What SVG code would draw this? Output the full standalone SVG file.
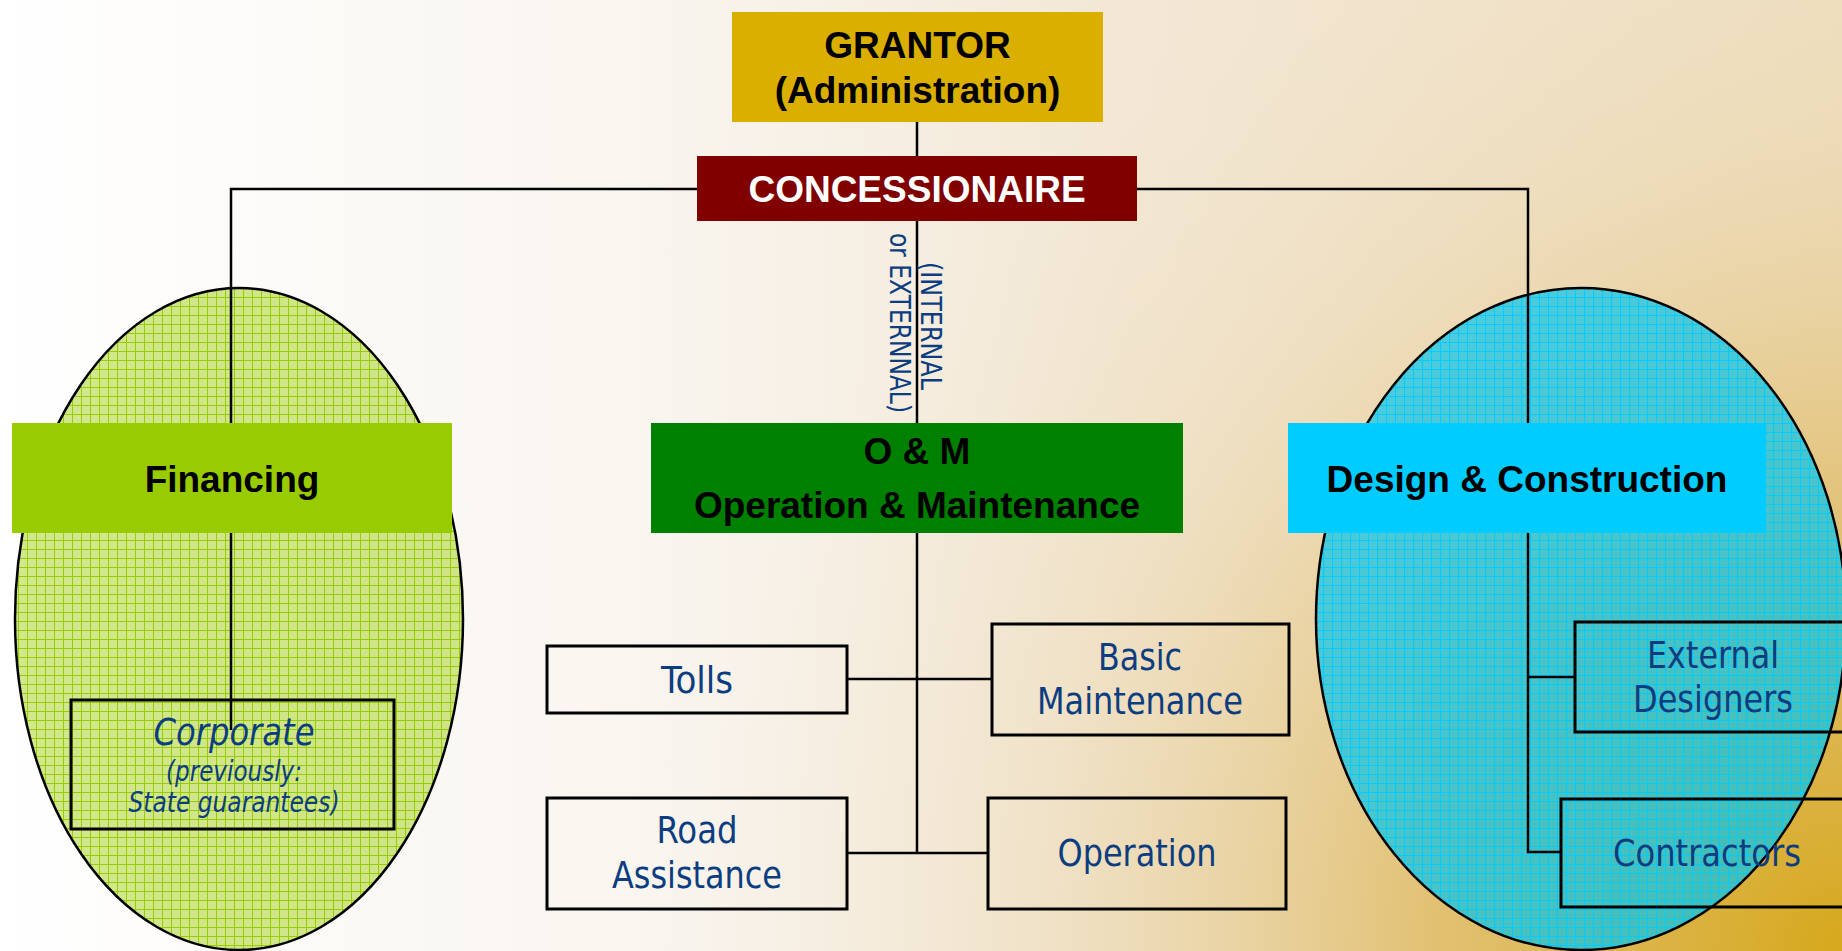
<svg xmlns="http://www.w3.org/2000/svg" width="1842" height="951" viewBox="0 0 1842 951">
  <defs>
    <linearGradient id="bgH" x1="0" y1="0" x2="1" y2="0">
      <stop offset="0" stop-color="#ffffff"/>
      <stop offset="0.35" stop-color="#f9f5ef"/>
      <stop offset="0.6" stop-color="#f3e8d6"/>
      <stop offset="1" stop-color="#efdfc2"/>
    </linearGradient>
    <radialGradient id="bgR" cx="1842" cy="951" r="1150" gradientUnits="userSpaceOnUse">
      <stop offset="0" stop-color="#d6a81c" stop-opacity="1"/>
      <stop offset="0.35" stop-color="#dcb452" stop-opacity="0.75"/>
      <stop offset="0.7" stop-color="#e6cc94" stop-opacity="0.25"/>
      <stop offset="1" stop-color="#efdfc2" stop-opacity="0"/>
    </radialGradient>
    <pattern id="gridGreen" width="9" height="9" patternUnits="userSpaceOnUse">
      <rect width="9" height="9" fill="#99cc00" fill-opacity="0.45"/>
      <path d="M0 0.5H9M0.5 0V9" stroke="#99cc00" stroke-width="1"/>
    </pattern>
    <pattern id="gridBlue" width="9" height="9" patternUnits="userSpaceOnUse">
      <rect width="9" height="9" fill="#00c4f0" fill-opacity="0.68"/>
      <path d="M0 0.5H9M0.5 0V9" stroke="#00ccff" stroke-width="1.2"/>
    </pattern>
  </defs>
  <style>
    .hdr { font-family: "Liberation Sans", Arial, sans-serif; font-weight: bold; font-size: 37px; text-anchor: middle; fill: #000; }
    .blue { font-family: "DejaVu Sans Condensed", "DejaVu Sans", sans-serif; font-stretch: condensed; font-size: 38px; fill: #0b3d80; text-anchor: middle; }
    .it { font-style: italic; }
    .sm { font-size: 28px; }
    .vt { font-family: "DejaVu Sans Condensed", "DejaVu Sans", sans-serif; font-stretch: condensed; font-size: 29px; fill: #0b3d80; }
    .box { fill: none; stroke: #000; stroke-width: 3; }
    .conn { fill: none; stroke: #000; stroke-width: 2.5; }
    .ell { stroke: #000; stroke-width: 2.5; }
  </style>

  <!-- background -->
  <rect width="1842" height="951" fill="url(#bgH)"/>
  <rect width="1842" height="951" fill="url(#bgR)"/>

  <!-- ellipses -->
  <ellipse id="ellipse-financing" class="ell" cx="239" cy="619" rx="224" ry="331" fill="url(#gridGreen)"/>
  <ellipse id="ellipse-design" class="ell" cx="1581" cy="619" rx="265" ry="331" fill="url(#gridBlue)"/>

  <!-- connectors -->
  <g id="connectors">
    <path class="conn" d="M917 122V156"/>
    <path class="conn" d="M697 189H231V423"/>
    <path class="conn" d="M1137 189H1528V423"/>
    <path class="conn" d="M917 221V423"/>
    <path class="conn" d="M231 533V730"/>
    <path class="conn" d="M917 533V853"/>
    <path class="conn" d="M847 679H992"/>
    <path class="conn" d="M847 853H988"/>
    <path class="conn" d="M1528 533V852H1561"/>
    <path class="conn" d="M1528 677H1575"/>
  </g>

  <!-- vertical label -->
  <g id="label-internal-external">
    <text class="vt" transform="translate(921,262) rotate(90)" textLength="128" lengthAdjust="spacingAndGlyphs">(INTERNAL</text>
    <text class="vt" transform="translate(890,233) rotate(90)" textLength="180" lengthAdjust="spacingAndGlyphs">or EXTERNNAL)</text>
  </g>

  <g id="grantor">
    <rect x="732" y="12" width="371" height="110" fill="#daaf00"/>
    <text class="hdr" x="917.5" y="58">GRANTOR</text>
    <text class="hdr" x="917.5" y="103">(Administration)</text>
  </g>

  <g id="concessionaire">
    <rect x="697" y="156" width="440" height="65" fill="#800000"/>
    <text class="hdr" x="917" y="202" style="fill:#fff">CONCESSIONAIRE</text>
  </g>

  <g id="financing">
    <rect x="12" y="423" width="440" height="110" fill="#99cc00"/>
    <text class="hdr" x="232" y="492">Financing</text>
  </g>

  <g id="om">
    <rect x="651" y="423" width="532" height="110" fill="#008000"/>
    <text class="hdr" x="917" y="464">O &amp; M</text>
    <text class="hdr" x="917" y="518">Operation &amp; Maintenance</text>
  </g>

  <g id="design">
    <rect x="1288" y="423" width="478" height="110" fill="#00ccff"/>
    <text class="hdr" x="1527" y="492">Design &amp; Construction</text>
  </g>

  <g id="corporate">
    <rect class="box" x="71" y="700" width="323" height="129"/>
    <text class="blue it" x="234" y="745" textLength="161" lengthAdjust="spacingAndGlyphs">Corporate</text>
    <text class="blue it sm" x="234" y="781" textLength="136" lengthAdjust="spacingAndGlyphs">(previously:</text>
    <text class="blue it sm" x="234" y="812" textLength="211" lengthAdjust="spacingAndGlyphs">State guarantees)</text>
  </g>

  <g id="tolls">
    <rect class="box" x="547" y="646" width="300" height="67"/>
    <text class="blue" x="697" y="693" textLength="72" lengthAdjust="spacingAndGlyphs">Tolls</text>
  </g>

  <g id="basic-maintenance">
    <rect class="box" x="992" y="624" width="297" height="111"/>
    <text class="blue" x="1140" y="670" textLength="84" lengthAdjust="spacingAndGlyphs">Basic</text>
    <text class="blue" x="1140" y="714" textLength="206" lengthAdjust="spacingAndGlyphs">Maintenance</text>
  </g>

  <g id="road-assistance">
    <rect class="box" x="547" y="798" width="300" height="111"/>
    <text class="blue" x="697" y="843" textLength="81" lengthAdjust="spacingAndGlyphs">Road</text>
    <text class="blue" x="697" y="888" textLength="170" lengthAdjust="spacingAndGlyphs">Assistance</text>
  </g>

  <g id="operation">
    <rect class="box" x="988" y="798" width="298" height="111"/>
    <text class="blue" x="1137" y="866" textLength="159" lengthAdjust="spacingAndGlyphs">Operation</text>
  </g>

  <g id="external-designers">
    <rect class="box" x="1575" y="622" width="280" height="110"/>
    <text class="blue" x="1713" y="668" textLength="132" lengthAdjust="spacingAndGlyphs">External</text>
    <text class="blue" x="1713" y="712" textLength="160" lengthAdjust="spacingAndGlyphs">Designers</text>
  </g>

  <g id="contractors">
    <rect class="box" x="1561" y="799" width="292" height="108"/>
    <text class="blue" x="1707" y="866" textLength="188" lengthAdjust="spacingAndGlyphs">Contractors</text>
  </g>
</svg>
